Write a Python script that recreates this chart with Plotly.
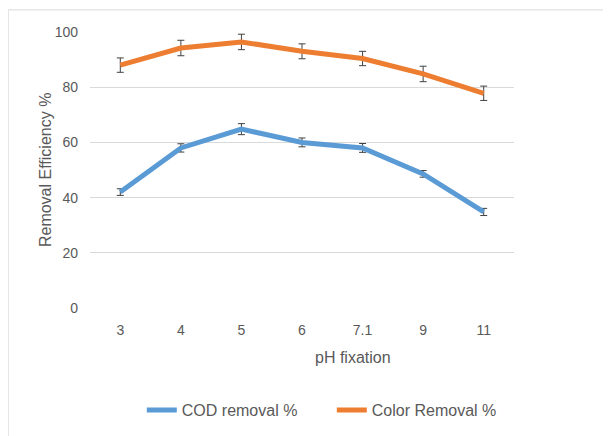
import plotly.graph_objects as go

ph_labels = ["3", "4", "5", "6", "7.1", "9", "11"]
cod_removal = [42, 58, 64.8, 60, 58, 48.6, 34.8]
cod_err = [1.2, 1.5, 2.0, 1.6, 1.6, 1.2, 1.3]
color_removal = [88, 94.2, 96.4, 93, 90.4, 84.8, 77.8]
color_err = [2.6, 2.8, 2.8, 2.7, 2.6, 2.8, 2.6]

font_family = "Liberation Sans, Arial, sans-serif"
text_color = "#595959"

fig = go.Figure()
fig.add_trace(go.Scatter(
    x=ph_labels, y=cod_removal, name="COD removal %", mode="lines",
    line=dict(color="#5B9BD5", width=5),
    error_y=dict(type="data", array=cod_err, color="#404040", thickness=1, width=3.5),
))
fig.add_trace(go.Scatter(
    x=ph_labels, y=color_removal, name="Color Removal %", mode="lines",
    line=dict(color="#ED7D31", width=5),
    error_y=dict(type="data", array=color_err, color="#404040", thickness=1, width=3.5),
))

fig.update_layout(
    width=611, height=436,
    margin=dict(l=82, r=105, t=24, b=136, autoexpand=False),
    paper_bgcolor="white", plot_bgcolor="white",
    font=dict(family=font_family, size=14, color=text_color),
    showlegend=True,
    legend=dict(orientation="h", xref="container", x=0.219, xanchor="left",
                yref="container", y=0.078, yanchor="middle",
                font=dict(size=16, color=text_color), entrywidth=145, entrywidthmode="pixels",
                tracegroupgap=0),
    shapes=[dict(type="rect", xref="paper", yref="paper", x0=-0.193, x1=1.4, y0=-0.7, y1=1.08,
                 line=dict(color="#D9D9D9", width=1), fillcolor="rgba(0,0,0,0)", layer="below")],
    annotations=[
        dict(text="pH fixation", xref="paper", yref="paper", x=0.62, y=-0.178,
             xanchor="center", yanchor="middle", showarrow=False,
             font=dict(size=16, color=text_color)),
        dict(text="Removal Efficiency %", xref="paper", yref="paper", x=-0.106, y=0.5,
             xanchor="center", yanchor="middle", showarrow=False, textangle=-90,
             font=dict(size=16, color=text_color)),
    ],
)
fig.update_xaxes(type="category", range=[-0.5, 6.5], showgrid=False, showline=False, ticks="",
                 ticklabelstandoff=12,
                 tickfont=dict(size=14, color=text_color))
fig.update_yaxes(range=[0, 100], dtick=20, showgrid=True, gridcolor="#D9D9D9", gridwidth=1,
                 zeroline=False, showline=False, ticks="",
                 ticklabelstandoff=11,
                 tickfont=dict(size=14, color=text_color))

fig.write_html("out.html")
